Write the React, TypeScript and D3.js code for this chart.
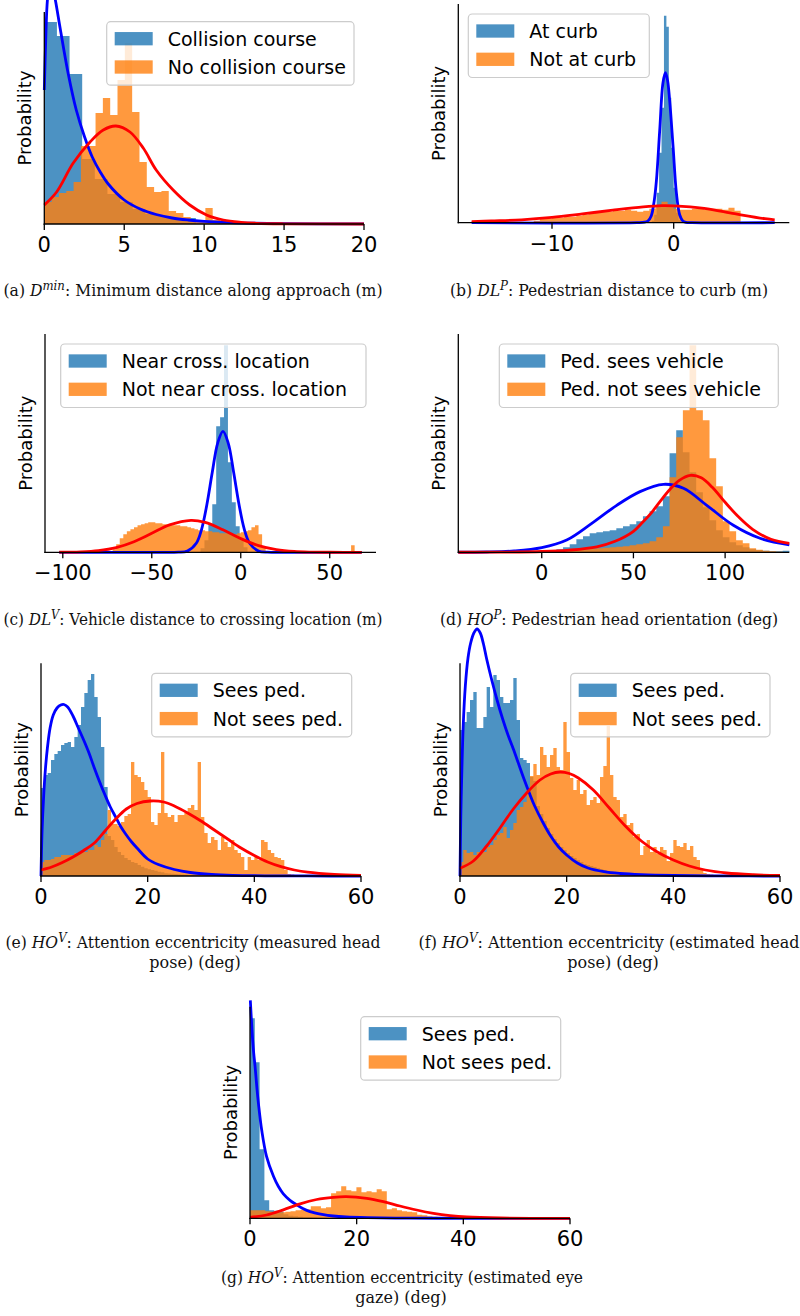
import React from "react";
import * as d3 from "d3";

type Pt = [number, number];
type Bins = { start: number; width: number };

// ---------------- (a) Minimum distance ----------------
const aTicks = [0, 5, 10, 15, 20];
const aBlueBins: Bins = { start: 0, width: 0.79 };
const aBlueHist = [202, 188, 150, 65, 45, 30, 22, 15, 10, 8, 5, 6];
const aOrangeBins: Bins = { start: 0, width: 0.458 };
const aOrangeHist = [22, 27, 31, 33, 42, 78, 78, 111, 126, 109, 144, 181, 112, 62, 37, 32, 33, 13, 11, 7, 4, 3, 16, 4, 2, 1, 1, 1];
const aBlueCurve: Pt[] = [[0, 134], [0.1, 190], [0.2, 225], [0.35, 242], [0.5, 238], [0.68, 225], [1, 195], [1.5, 150], [2, 114], [2.5, 88], [3, 67], [3.5, 52], [4, 40], [5, 24], [6, 15], [7, 9.5], [8, 6], [9, 4], [10, 2.7], [12, 1.2], [15, 0.4], [20, 0.1]];
const aRedCurve: Pt[] = [[0, 19], [0.77, 32], [1.8, 60.7], [2.86, 82], [3.69, 94], [4.48, 98], [5.36, 92], [6.2, 75.7], [7, 54], [8.06, 34], [9.1, 19], [10.15, 9], [11.2, 4], [12.3, 1.7], [13.3, 0.7], [15, 0.2], [20, 0]];
const aLabels = ["Collision course", "No collision course"];

// ---------------- (b) Pedestrian distance to curb ----------------
const bTicks = [-10, 0];
const bBlueBins: Bins = { start: -1.8, width: 0.2 };
const bBlueHist = [2, 8, 30, 70, 115, 207, 196, 125, 75, 35, 10, 3];
const bOrangeBins: Bins = { start: -11.5, width: 0.5 };
const bOrangeHist = [2, 4, 4, 5, 5, 6, 6, 7, 8, 9, 10, 11, 11, 12, 12, 13, 12, 11, 12, 14, 16, 21, 18, 14, 13, 13, 14, 14, 13, 14, 14, 13, 15, 12];
const bBlueCurve: Pt[] = [[-16.6, 0], [-3, 0], [-2.4, 0.5], [-2.1, 2], [-1.84, 7], [-1.6, 22], [-1.42, 42], [-1.15, 92], [-0.88, 140], [-0.68, 150], [-0.5, 142], [-0.33, 122], [-0.05, 76], [0.22, 30], [0.49, 8], [0.75, 1.8], [1.0, 0.4], [1.5, 0], [8.3, 0]];
const bRedCurve: Pt[] = [[-16.6, 1], [-15, 1.7], [-12.5, 2.9], [-10, 5.3], [-7.5, 8.8], [-5, 12.5], [-2.5, 15.8], [-1, 17], [0, 16.8], [2.5, 14.3], [5, 9], [7.5, 4], [8.3, 2.9]];
const bLabels = ["At curb", "Not at curb"];

// ---------------- (c) Vehicle distance to crossing location ----------------
const cTicks = [-100, -50, 0, 50];
const cBlueBins: Bins = { start: -22.6, width: 2.2 };
const cBlueHist = [4, 12, 28, 48, 126, 135, 207, 90, 50, 26, 12, 5];
const cOrangeBins: Bins = { start: -72, width: 2 };
const cOrangeHist = [3, 8, 14, 18, 21, 23, 25, 27, 28, 29, 30, 30, 29, 29, 28, 28, 27, 27, 27, 26, 26, 25, 24, 23, 22, 22, 21, 21, 20, 20, 19, 19, 19, 18, 18, 19, 20, 21, 22, 25, 27, 18, 5,
  0, 0, 0, 0, 0, 0, 0, 0, 0, 0, 0, 0, 0, 0, 0, 0, 0, 0, 0, 0, 0, 0, 0, 0, 7];
const cBlueCurve: Pt[] = [[-102, 0], [-40, 0], [-35, 0.1], [-30, 1.2], [-25, 9], [-22, 23], [-19, 48], [-16, 80], [-13, 109], [-10, 121], [-7, 109], [-4, 80], [-1, 48], [2, 23], [5, 9], [10, 1.2], [15, 0.1], [20, 0], [68, 0]];
const cRedCurve: Pt[] = [[-102, 0.1], [-90, 0.5], [-80, 1.7], [-70, 4.7], [-60, 10.6], [-50, 19], [-40, 27.4], [-28, 32], [-20, 29.9], [-10, 22.5], [0, 13.7], [10, 6.7], [20, 2.7], [30, 0.8], [40, 0.2], [50, 0.05], [68, 0]];
const cLabels = ["Near cross. location", "Not near cross. location"];

// ---------------- (d) Pedestrian head orientation ----------------
const dTicks = [0, 50, 100];
const dBlueBins: Bins = { start: 4.37, width: 3.63 };
const dBlueHist = [2, 3, 5, 8, 13, 16, 19, 20, 21, 22, 24, 26, 28, 31, 36, 41, 46, 56, 99, 122, 100, 80, 60, 45, 32, 22, 15, 10, 7, 5, 3, 2, 1.5, 1, 1, 1.5];
const dOrangeBins: Bins = { start: 4.37, width: 3.63 };
const dOrangeHist = [0.5, 1, 1.5, 2, 2.5, 3, 3.5, 4, 4.5, 5, 5.5, 6, 7, 8, 9, 11, 15, 26, 75, 115, 142, 207, 142, 132, 94, 66, 31, 21, 12, 9, 4, 2.5, 1.5, 1, 0.5];
const dBlueCurve: Pt[] = [[-45.5, 0.05], [-30, 0.3], [-15, 1.4], [0, 4.7], [13.6, 12.3], [27.3, 29], [40.9, 47], [53.6, 60.7], [66.4, 68], [77.3, 64], [90, 47], [104.5, 27], [119, 14], [135, 7.5]];
const dRedCurve: Pt[] = [[-45.5, 0.05], [-20, 0.2], [0, 0.8], [15, 2.2], [30, 5.5], [40, 11], [50, 21], [55, 30], [60, 40], [65, 52], [70, 63], [75, 72], [81, 77], [87, 74.5], [93, 65], [100, 50], [107, 36], [115, 23], [125, 13], [135, 9]];
const dLabels = ["Ped. sees vehicle", "Ped. not sees vehicle"];

// ---------------- (e) measured head pose ----------------
const eTicks = [0, 20, 40, 60];
const eBlueBins: Bins = { start: 0, width: 0.625 };
const eBlueHist = [88, 101, 103, 116, 122, 125, 131, 133, 134, 129, 139, 151, 169, 183, 196, 202, 179, 159, 129, 89, 40, 36, 29, 24, 21, 18, 16, 14, 13, 11, 9.3, 7.7, 6.7, 6, 5.3, 4.3, 3.7, 2.7, 2.5, 2.2, 2, 1.8, 1.5, 1.3, 1.1, 1, 0.8, 0.6];
const eOrangeBins: Bins = { start: 0, width: 0.625 };
const eOrangeHist = [14, 16, 16, 17, 19, 19, 21, 21, 21, 21, 23, 23, 24, 24, 26, 26, 31, 29, 36, 42,
  66, 52, 52, 50, 54, 60, 62, 114, 101, 99, 94, 86, 79, 54, 51, 63, 124, 63, 59, 61,
  54, 61, 61, 63, 68, 71, 66, 114, 59, 43, 33, 39, 36, 26, 39, 34, 29, 36, 26, 23,
  19, 6, 19, 16, 19, 16, 36, 34, 26, 23, 19, 18, 16, 6, 2, 1.5, 1, 1, 1, 1, 0.5, 0.5];
const eBlueCurve: Pt[] = [[0, 0], [0.2, 45], [0.5, 80], [0.8, 105], [1.2, 128], [1.7, 148], [2.3, 161], [3, 168], [3.7, 171], [4.3, 171.5], [5, 169], [6, 160], [7, 148], [8, 136], [9, 123], [10, 108], [11, 94], [12, 81], [13, 69], [14, 59], [15, 49], [16, 41], [17, 34], [18, 28], [20, 17], [22, 11.5], [25, 6.5], [28, 3.5], [32, 1.6], [36, 0.7], [42, 0.2], [50, 0.05], [60, 0]];
const eRedCurve: Pt[] = [[0, 6], [2, 9], [4, 13.5], [6, 19], [8, 25.5], [10, 33], [12, 45], [14, 57], [16, 67], [18, 72.5], [20.5, 75], [23, 74], [25, 70], [27.5, 63], [30, 55], [32.5, 46], [35, 37], [37.5, 28], [40, 20.5], [42.5, 14], [45, 9.3], [47.5, 6], [50, 3.8], [55, 1.6], [60, 0.6]];
const eLabels = ["Sees ped.", "Not sees ped."];

// ---------------- (f) estimated head pose ----------------
const fTicks = [0, 20, 40, 60];
const fBlueBins: Bins = { start: 0, width: 0.625 };
const fBlueHist = [146, 154, 164, 176, 184, 148, 148, 159, 189, 169, 201, 196, 179, 173, 173, 176, 198, 156, 118, 116, 113, 99, 95, 70, 62, 55, 48, 42, 37, 33, 29, 26, 23, 20, 18, 16, 14, 12, 11, 10, 9, 8, 7, 6, 5, 4.5, 4, 3.5, 3, 2.5, 2, 1.8, 1.5, 1.3, 1.1, 1, 0.8];
const fOrangeBins: Bins = { start: 0, width: 0.625 };
const fOrangeHist = [14, 26, 23, 24, 21, 24, 26, 24, 29, 31, 36, 41, 43, 49, 38, 46, 53, 66, 69, 74,
  88, 100, 112, 101, 129, 121, 109, 121, 128, 109, 106, 154, 124, 98, 86, 96, 82, 86, 71, 76, 79, 73, 99, 110,
  150, 101, 79, 76, 59, 62, 51, 53, 39, 42, 21, 30, 36, 24, 29, 22, 29, 26, 15, 23, 36, 30, 29, 33, 26, 30, 19, 16, 6, 3,
  2, 1.5, 1, 1, 1, 1, 1, 0.5, 0.5, 0.5];
const fBlueCurve: Pt[] = [[0, 0], [0.15, 60], [0.3, 95], [0.6, 150], [1, 190], [1.5, 218], [2, 233], [2.6, 243], [3.2, 247], [3.8, 243], [4.4, 232], [5, 217], [6, 195], [7, 175], [8, 157], [9, 141], [10, 127], [11, 112], [12, 97], [13, 83], [14, 70], [15.5, 54], [17, 40], [18.5, 29], [20, 21], [22, 13], [24, 8], [27, 4.3], [30, 2.5], [34, 1.3], [40, 0.5], [50, 0.1], [60, 0]];
const fRedCurve: Pt[] = [[0, 7.7], [2.5, 15], [5, 30], [7.5, 48], [10, 67], [12.5, 83], [15, 96], [17, 102], [18.75, 104], [20.5, 102.5], [22.2, 98], [25, 86], [28, 68], [31, 50], [34, 35], [37, 24], [40, 16], [43, 10], [46, 6], [50, 3], [55, 1.3], [60, 0.5]];
const fLabels = ["Sees ped.", "Not sees ped."];

// ---------------- (g) estimated eye gaze ----------------
const gTicks = [0, 20, 40, 60];
const gBlueBins: Bins = { start: 0, width: 0.9 };
const gBlueHist = [200, 156, 69, 18, 8, 7.5, 6.5, 4, 2.5, 2, 1.5, 1, 1, 0.8, 0.6, 0.5, 0.4, 0.3, 0.3, 0.2];
const gOrangeBins: Bins = { start: 0, width: 0.95 };
const gOrangeHist = [8, 8, 8, 7, 6.5, 6, 6, 6.5, 7, 8, 8.5, 9, 12, 12, 10, 11, 25, 27, 32, 28, 27, 31, 26, 27, 26, 29, 27, 9, 10, 8, 7, 6.5, 6, 3.5, 3, 2, 1.5, 1, 1, 0.5, 0.5];
const gBlueCurve: Pt[] = [[0.06, 218], [0.3, 195], [0.5, 178], [0.7, 165], [0.95, 152], [1.3, 130], [1.6, 114], [2.2, 88], [3.1, 62], [4.4, 42], [5.3, 32], [6.25, 24.5], [7.5, 18], [8.75, 13.5], [10, 9.5], [11.25, 6.7], [13.5, 4], [15.6, 2.3], [18, 1.3], [22, 0.6], [28, 0.2], [35, 0.05], [60, 0]];
const gRedCurve: Pt[] = [[0, 1], [3.1, 3.3], [6.25, 8.5], [9.4, 14.5], [12.5, 18.8], [15.6, 21], [18, 21.7], [21.9, 20], [25, 16.7], [28.1, 12.3], [31.25, 8.3], [34.4, 5], [37.5, 2.7], [40.6, 1.3], [46.9, 0.3], [60, 0]];
const gLabels = ["Sees ped.", "Not sees ped."];

// ---------------- rendering ----------------
const SANS = "'DejaVu Sans', sans-serif";
const SERIF = "'DejaVu Serif', serif";
const BLUE = "#1f77b4";
const ORANGE = "#ff7f0e";

type Part = { t: string; it?: boolean; sup?: boolean };
type CapLine = { parts: Part[]; cx: number; y: number; len?: number };

type Spec = {
  box: { l: number; r: number; t: number; b: number };
  xDomain: [number, number];
  yLimit: number;
  ticks: number[];
  blueBins: Bins; blueHist: number[];
  orangeBins: Bins; orangeHist: number[];
  blueCurve: Pt[]; redCurve: Pt[];
  labels: string[];
  legend: { x: number; y: number; w: number };
  caption: CapLine[];
};

const cap = (letter: string, base: string, sup: string, rest: string): Part[] => [
  { t: `(${letter}) ` }, { t: base, it: true }, { t: sup, it: true, sup: true }, { t: rest },
];

const specs: Spec[] = [
  {
    box: { l: 44.3, r: 364, t: 12, b: 224 }, xDomain: [0, 20], yLimit: 212, ticks: aTicks,
    blueBins: aBlueBins, blueHist: aBlueHist, orangeBins: aOrangeBins, orangeHist: aOrangeHist,
    blueCurve: aBlueCurve, redCurve: aRedCurve, labels: aLabels,
    legend: { x: 106.7, y: 21.7, w: 247.3 },
    caption: [{ parts: cap("a", "D", "min", ": Minimum distance along approach (m)"), cx: 193, y: 296, len: 379 }],
  },
  {
    box: { l: 458.3, r: 789.3, t: 4, b: 222.7 }, xDomain: [-17.7, 9.5], yLimit: 218.7, ticks: bTicks,
    blueBins: bBlueBins, blueHist: bBlueHist, orangeBins: bOrangeBins, orangeHist: bOrangeHist,
    blueCurve: bBlueCurve, redCurve: bRedCurve, labels: bLabels,
    legend: { x: 468.3, y: 14, w: 181 },
    caption: [{ parts: cap("b", "DL", "P", ": Pedestrian distance to curb (m)"), cx: 609, y: 296, len: 318 }],
  },
  {
    box: { l: 45, r: 376, t: 334, b: 552.3 }, xDomain: [-110, 76], yLimit: 218.3, ticks: cTicks,
    blueBins: cBlueBins, blueHist: cBlueHist, orangeBins: cOrangeBins, orangeHist: cOrangeHist,
    blueCurve: cBlueCurve, redCurve: cRedCurve, labels: cLabels,
    legend: { x: 60.7, y: 344, w: 305.3 },
    caption: [{ parts: cap("c", "DL", "V", ": Vehicle distance to crossing location (m)"), cx: 193, y: 625, len: 379 }],
  },
  {
    box: { l: 458.3, r: 789.3, t: 334, b: 552.3 }, xDomain: [-45.5, 135], yLimit: 218.3, ticks: dTicks,
    blueBins: dBlueBins, blueHist: dBlueHist, orangeBins: dOrangeBins, orangeHist: dOrangeHist,
    blueCurve: dBlueCurve, redCurve: dRedCurve, labels: dLabels,
    legend: { x: 499.3, y: 344, w: 279 },
    caption: [{ parts: cap("d", "HO", "P", ": Pedestrian head orientation (deg)"), cx: 609, y: 625, len: 338 }],
  },
  {
    box: { l: 41, r: 361, t: 663.3, b: 876 }, xDomain: [0, 60], yLimit: 212.7, ticks: eTicks,
    blueBins: eBlueBins, blueHist: eBlueHist, orangeBins: eOrangeBins, orangeHist: eOrangeHist,
    blueCurve: eBlueCurve, redCurve: eRedCurve, labels: eLabels,
    legend: { x: 151.7, y: 673.3, w: 200 },
    caption: [
      { parts: cap("e", "HO", "V", ": Attention eccentricity (measured head"), cx: 193, y: 948, len: 375 },
      { parts: [{ t: "pose) (deg)" }], cx: 195, y: 968 },
    ],
  },
  {
    box: { l: 460, r: 780, t: 663.3, b: 876 }, xDomain: [0, 60], yLimit: 212.7, ticks: fTicks,
    blueBins: fBlueBins, blueHist: fBlueHist, orangeBins: fOrangeBins, orangeHist: fOrangeHist,
    blueCurve: fBlueCurve, redCurve: fRedCurve, labels: fLabels,
    legend: { x: 570.7, y: 673.3, w: 199.3 },
    caption: [
      { parts: cap("f", "HO", "V", ": Attention eccentricity (estimated head"), cx: 609, y: 948, len: 381 },
      { parts: [{ t: "pose) (deg)" }], cx: 613, y: 968 },
    ],
  },
  {
    box: { l: 250, r: 570, t: 1006.7, b: 1218.3 }, xDomain: [0, 60], yLimit: 211.6, ticks: gTicks,
    blueBins: gBlueBins, blueHist: gBlueHist, orangeBins: gOrangeBins, orangeHist: gOrangeHist,
    blueCurve: gBlueCurve, redCurve: gRedCurve, labels: gLabels,
    legend: { x: 360.7, y: 1016.7, w: 200 },
    caption: [
      { parts: cap("g", "HO", "V", ": Attention eccentricity (estimated eye"), cx: 402, y: 1283, len: 362 },
      { parts: [{ t: "gaze) (deg)" }], cx: 401, y: 1303 },
    ],
  },
];

const fmtTick = (v: number) => (v < 0 ? "\u2212" + Math.abs(v) : String(v));

function histArea(bins: Bins, values: number[], x: d3.ScaleLinear<number, number>, y: d3.ScaleLinear<number, number>) {
  const pts: Pt[] = values.map((v, i) => [bins.start + i * bins.width, v] as Pt);
  pts.push([bins.start + values.length * bins.width, values[values.length - 1]]);
  const area = d3
    .area<Pt>()
    .x((d) => x(d[0]))
    .y0(y(0))
    .y1((d) => y(d[1]))
    .curve(d3.curveStepAfter);
  return area(pts) || "";
}

function Caption({ line }: { line: CapLine }) {
  const nodes: React.ReactNode[] = [];
  let inSup = false;
  line.parts.forEach((p, i) => {
    let dy = 0;
    if (p.sup && !inSup) { dy = -6.5; inSup = true; }
    else if (!p.sup && inSup) { dy = 6.5; inSup = false; }
    nodes.push(
      <tspan key={i} dy={dy || undefined} fontStyle={p.it ? "italic" : undefined} fontSize={p.sup ? 12 : undefined}>
        {p.t}
      </tspan>
    );
  });
  return (
    <text
      x={line.cx}
      y={line.y}
      textAnchor="middle"
      fontFamily={SERIF}
      fontSize={16}
      fill="#111"
      {...(line.len ? { textLength: line.len, lengthAdjust: "spacingAndGlyphs" } : {})}
    >
      {nodes}
    </text>
  );
}

function Panel({ s }: { s: Spec }) {
  const { l, r, t, b } = s.box;
  const x = d3.scaleLinear().domain(s.xDomain).range([l, r]);
  const y = d3.scaleLinear().domain([0, s.yLimit]).range([b, t]);
  const line = d3
    .line<Pt>()
    .x((d) => x(d[0]))
    .y((d) => y(Math.max(0, d[1])))
    .curve(d3.curveCatmullRom.alpha(0.5));
  const lg = s.legend;
  const rows = [lg.y + 17, lg.y + 45.3];
  return (
    <g>
      <path d={histArea(s.blueBins, s.blueHist, x, y)} fill={BLUE} fillOpacity={0.8} />
      <path d={histArea(s.orangeBins, s.orangeHist, x, y)} fill={ORANGE} fillOpacity={0.8} />
      <path d={line(s.blueCurve) || ""} fill="none" stroke="#0000ff" strokeWidth={2.8} strokeLinejoin="round" />
      <path d={line(s.redCurve) || ""} fill="none" stroke="#ff0000" strokeWidth={2.8} strokeLinejoin="round" />
      {/* spines */}
      <line x1={l} x2={l} y1={t} y2={b + 0.65} stroke="#000" strokeWidth={1.3} />
      <line x1={l - 0.65} x2={r} y1={b} y2={b} stroke="#000" strokeWidth={1.3} />
      {s.ticks.map((v) => (
        <g key={v}>
          <line x1={x(v)} x2={x(v)} y1={b} y2={b + 6} stroke="#000" strokeWidth={1.3} />
          <text x={x(v)} y={b + 28} textAnchor="middle" fontFamily={SANS} fontSize={21} fill="#000">
            {fmtTick(v)}
          </text>
        </g>
      ))}
      <text
        transform={`translate(${l - 13},${(t + b) / 2}) rotate(-90)`}
        textAnchor="middle"
        fontFamily={SANS}
        fontSize={18}
        fill="#000"
      >
        Probability
      </text>
      {/* legend */}
      <rect x={lg.x} y={lg.y} width={lg.w} height={63.5} rx={4} ry={4} fill="#fff" fillOpacity={0.8} stroke="#cccccc" strokeWidth={1.2} />
      {[BLUE, ORANGE].map((c, i) => (
        <g key={c}>
          <rect x={lg.x + 8} y={rows[i] - 6.65} width={38} height={13.3} fill={c} fillOpacity={0.8} />
          <text x={lg.x + 61} y={rows[i] + 7} fontFamily={SANS} fontSize={19} fill="#000">
            {s.labels[i]}
          </text>
        </g>
      ))}
      {s.caption.map((c, i) => (
        <Caption key={i} line={c} />
      ))}
    </g>
  );
}

export default function App() {
  return (
    <svg
      width={800}
      height={1316}
      viewBox="0 0 800 1316"
      style={{ position: "absolute", left: 0, top: 0, background: "#fff" }}
    >
      <rect x={0} y={0} width={800} height={1316} fill="#fff" />
      {specs.map((s, i) => (
        <Panel key={i} s={s} />
      ))}
    </svg>
  );
}
